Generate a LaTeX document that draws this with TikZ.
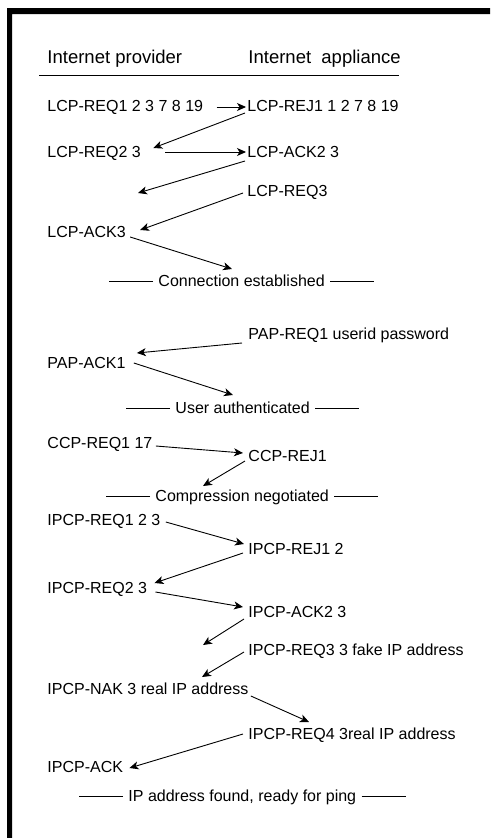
\documentclass[tikz,border=0pt]{standalone}
\usepackage{fontspec}
\setmainfont{Liberation Sans}
\usetikzlibrary{arrows.meta}
\begin{document}
\begin{tikzpicture}[x=1pt,y=-1pt,>={Stealth[length=9pt,width=8pt,inset=2.5pt]},line width=0.9pt,line join=round,
	msg/.style={anchor=base west,inner sep=0pt,text height=11.5pt,text depth=3.5pt,font=\fontsize{16}{19}\selectfont},
	head/.style={anchor=base west,inner sep=0pt,font=\fontsize{18.5}{22}\selectfont}]
	\useasboundingbox (0,0) rectangle (490,838);
	% frame, cut at right and bottom
	\fill[black] (7,8) rectangle (490,14) (7,8) rectangle (12,838);
	\path
	(47,63) node[head] (prov) {Internet provider}
	(248,63) node[head] (appl) {Internet~~appliance}
	(47,111) node[msg] (req1) {LCP-REQ1 2 3 7 8 19}
	(247,111) node[msg] (rej1) {LCP-REJ1 1 2 7 8 19}
	(47,157) node[msg] (req2) {LCP-REQ2 3}
	(247,157) node[msg] (ack2) {LCP-ACK2 3}
	(138,193) coordinate (gap1)
	(247,196) node[msg] (req3) {LCP-REQ3}
	(47,237) node[msg] (ack3) {LCP-ACK3}
	(158,286) node[msg] (conn) {Connection established}
	(248,339) node[msg] (papreq) {PAP-REQ1 userid password}
	(47,368) node[msg] (papack) {PAP-ACK1}
	(175,413) node[msg] (auth) {User authenticated}
	(47,448) node[msg] (ccpreq) {CCP-REQ1 17}
	(248,461) node[msg] (ccprej) {CCP-REJ1}
	(155,501) node[msg] (comp) {Compression negotiated}
	(47,525) node[msg] (ipreq1) {IPCP-REQ1 2 3}
	(248,554) node[msg] (iprej1) {IPCP-REJ1 2}
	(47,593) node[msg] (ipreq2) {IPCP-REQ2 3}
	(248,617) node[msg] (ipack2) {IPCP-ACK2 3}
	(203,645) coordinate (gap2)
	(248,655) node[msg] (ipreq3) {IPCP-REQ3 3 fake IP address}
	(47,694) node[msg] (ipnak) {IPCP-NAK 3 real IP address}
	(248,739) node[msg] (ipreq4) {IPCP-REQ4 3real IP address}
	(47,772) node[msg] (ipack) {IPCP-ACK}
	(128,801) node[msg] (found) {IP address found, ready for ping}
	;
	\draw (39,75) -- (399,75);
	\foreach \n in {conn,auth,comp,found}
		\draw ([shift={(-5,-5)}]\n.base west) -- ++(-44,0) ([shift={(5,-5)}]\n.base east) -- ++(44,0);
	% LCP
	\draw[->] ([shift={(13,-4)}]req1.base east) -- ([shift={(-1,-4)}]rej1.base west);
	\draw[->] ([shift={(-2,2)}]rej1.base west) -- ([shift={(12,-9)}]req2.base east);
	\draw[->] ([shift={(24,-5)}]req2.base east) -- ([shift={(-1,-5)}]ack2.base west);
	\draw[->] ([shift={(-2,4)}]ack2.base west) -- (gap1);
	\draw[->] ([shift={(-4,-3)}]req3.base west) -- ([shift={(14,-7)}]ack3.base east);
	\draw[->] ([shift={(4,0)}]ack3.base east) -- ([shift={(74,-17)}]conn.base west);
	% PAP
	\draw[->] ([shift={(-6,4)}]papreq.base west) -- ([shift={(11,-15)}]papack.base east);
	\draw[->] ([shift={(8,-5)}]papack.base east) -- ([shift={(58,-18)}]auth.base west);
	% CCP
	\draw[->] ([shift={(3,-2)}]ccpreq.base east) -- ([shift={(-5,-8)}]ccprej.base west);
	\draw[->] ([shift={(-3,0)}]ccprej.base west) -- ([shift={(48,-15)}]comp.base west);
	% IPCP
	\draw[->] ([shift={(5,-3)}]ipreq1.base east) -- ([shift={(-4,-10)}]iprej1.base west);
	\draw[->] ([shift={(-5,-1)}]iprej1.base west) -- ([shift={(7,-10)}]ipreq2.base east);
	\draw[->] ([shift={(8,-1)}]ipreq2.base east) -- ([shift={(-5,-10)}]ipack2.base west);
	\draw[->] ([shift={(-4,2)}]ipack2.base west) -- (gap2);
	\draw[->] ([shift={(-4,-3)}]ipreq3.base west) -- ([shift={(155,-17)}]ipnak.base west);
	\draw[->] ([shift={(2,2)}]ipnak.base east) -- ([shift={(61,-17)}]ipreq4.base west);
	\draw[->] ([shift={(-5,-5)}]ipreq4.base west) -- ([shift={(6,-4)}]ipack.base east);
\end{tikzpicture}
\end{document}
